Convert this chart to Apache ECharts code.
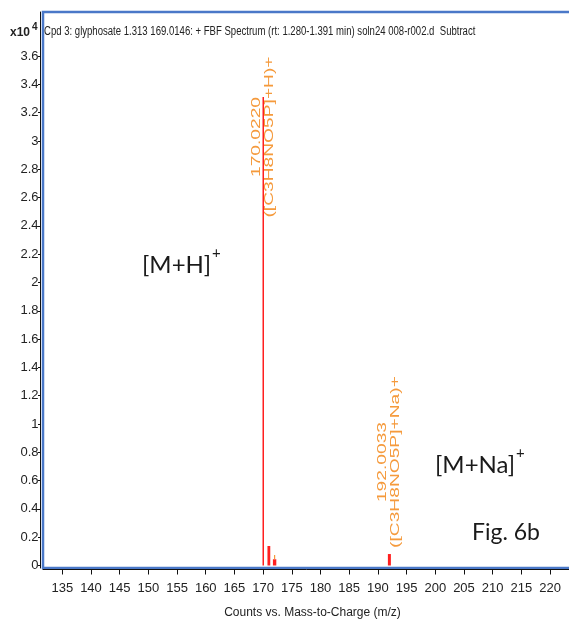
<!DOCTYPE html>
<html>
<head>
<meta charset="utf-8">
<script src="https://cdn.jsdelivr.net/npm/echarts@6/dist/echarts.min.js"></script>
<style>
html,body{margin:0;padding:0;background:#fff;}
#chart{width:569px;height:619px;}
</style>
</head>
<body>
<div id="chart"></div>
<script>
// ---- data ----
const mzTicks = [135,140,145,150,155,160,165,170,175,180,185,190,195,200,205,210,215,220];
const countTicks = [0,2000,4000,6000,8000,10000,12000,14000,16000,18000,20000,22000,24000,26000,28000,30000,32000,34000,36000];
const peakMz = [170.022, 171.0, 172.0, 192.003];
const peakCounts = [33110, 1380, 440, 810];
const isoMarkMz = [172.0];
const isoMarkLow = [440];
const isoMarkHigh = [740];
const labelMz = [170.022, 192.003];
const labelCounts = [33110, 810];
const labelMass = ['170.0220', '192.0033'];
const labelFormula = ['([C3H8NO5P]+H)+', '([C3H8NO5P]+Na)+'];
const titleText = 'Cpd 3: glyphosate 1.313 169.0146: + FBF Spectrum (rt: 1.280-1.391 min) soln24 008-r002.d  Subtract';
const xAxisName = 'Counts vs. Mass-to-Charge (m/z)';

// ---- styles ----
const SANS = '"Liberation Sans", Arial, sans-serif';
const CAL = 'Lato, "Open Sans", sans-serif';
const stickWidths = [1.5, 2.8, 3.4, 3];
const labelOffsets = [[0, 40], [0, -92]];
const RED = '#ff1f1f';
const ORANGE = '#f59a3c';

const chart = echarts.init(document.getElementById('chart'), null, {renderer: 'canvas'});

const option = {
  animation: false,
  grid: {
    left: 43, top: 12, right: -4, bottom: 51,
    outerBoundsMode: 'none', containLabel: false,
    show: true, borderColor: '#4a78c8', borderWidth: 2.5, backgroundColor: 'transparent'
  },
  xAxis: {
    type: 'value', min: 131.64, max: 224.0,
    position: 'bottom', offset: 1.5,
    axisLine: {show: true, onZero: false, lineStyle: {color: '#111', width: 1}},
    axisTick: {show: true, customValues: mzTicks, length: 5, lineStyle: {color: '#111'}},
    axisLabel: {customValues: mzTicks, fontFamily: SANS, fontSize: 13, color: '#222', margin: 12},
    splitLine: {show: false},
    name: xAxisName, nameLocation: 'middle', nameGap: 37,
    nameTextStyle: {fontFamily: SANS, fontSize: 12, color: '#222', padding: [0, 0, 0, 9]}
  },
  yAxis: {
    type: 'value', min: -177, max: 39117,
    offset: 2.5,
    axisLine: {show: true, onZero: false, lineStyle: {color: '#111', width: 1}},
    axisTick: {show: true, customValues: countTicks, length: 2.5, lineStyle: {color: '#111'}},
    axisLabel: {
      customValues: countTicks, fontFamily: SANS, fontSize: 13, color: '#222', margin: 2,
      formatter: v => String(Math.round(v / 1000) / 10)
    },
    splitLine: {show: false}
  },
  graphic: [
    {type: 'text', x: 44, y: 32, scaleX: 0.765, scaleY: 1, style: {text: titleText, font: '12.5px ' + SANS, fill: '#222', verticalAlign: 'middle'}},
    {type: 'text', left: 10, top: 27, style: {text: 'x10', font: 'bold 12px ' + SANS, fill: '#222'}},
    {type: 'text', left: 32, top: 22, style: {text: '4', font: 'bold 10px ' + SANS, fill: '#222'}},
    {type: 'text', left: 142, top: 253, style: {text: '[M+H]', font: '24px ' + CAL, fill: '#1a1a1a'}},
    {type: 'text', left: 212, top: 246, style: {text: '+', font: '15px ' + CAL, fill: '#1a1a1a'}},
    {type: 'text', left: 435, top: 453, style: {text: '[M+Na]', font: '24px ' + CAL, fill: '#1a1a1a'}},
    {type: 'text', left: 516, top: 446, style: {text: '+', font: '15px ' + CAL, fill: '#1a1a1a'}},
    {type: 'text', left: 472, top: 521, style: {text: 'Fig. 6b', font: '23px ' + CAL, fill: '#1a1a1a'}}
  ],
  series: [
    {
      type: 'custom', name: 'sticks', clip: true,
      data: peakMz.map((m, i) => [m, peakCounts[i], i]),
      encode: {x: 0, y: 1},
      renderItem: function (params, api) {
        const x = api.value(0), y = api.value(1), idx = api.value(2);
        const top = api.coord([x, y]);
        const base = api.coord([x, 0]);
        const w = stickWidths[idx];
        return {type: 'rect', shape: {x: top[0] - w / 2, y: top[1], width: w, height: base[1] - top[1]}, style: {fill: RED}};
      }
    },
    {
      type: 'custom', name: 'isoMarks', clip: true,
      data: isoMarkMz.map((m, i) => [m, isoMarkHigh[i], isoMarkLow[i]]),
      encode: {x: 0, y: 1},
      renderItem: function (params, api) {
        const x = api.value(0);
        const top = api.coord([x, api.value(1)]);
        const low = api.coord([x, api.value(2)]);
        return {type: 'line', shape: {x1: top[0], y1: top[1], x2: low[0], y2: low[1]}, style: {stroke: ORANGE, lineWidth: 1.2}};
      }
    },
    {
      type: 'custom', name: 'labels', clip: false,
      data: labelMz.map((m, i) => [m, labelCounts[i], i]),
      encode: {x: 0, y: 1},
      renderItem: function (params, api) {
        const idx = api.value(2);
        const p = api.coord([api.value(0), api.value(1)]);
        const off = labelOffsets[idx];
        return {
          type: 'text', x: p[0] + off[0], y: p[1] + off[1], rotation: Math.PI / 2, scaleX: 1.6, scaleY: 1,
          style: {
            text: labelMass[idx] + '\n' + labelFormula[idx], fill: ORANGE,
            font: '12px ' + SANS, align: 'center', verticalAlign: 'middle', lineHeight: 12.5
          }
        };
      }
    }
  ]
};
chart.setOption(option);
</script>
</body>
</html>
